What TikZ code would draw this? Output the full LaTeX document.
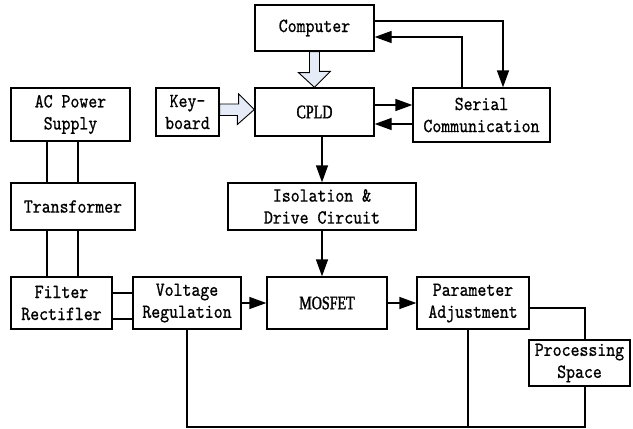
\documentclass[tikz,border=0pt]{standalone}
\usepackage{fontspec}
\usepackage{tikz}
\usetikzlibrary{arrows.meta}
\newfontfamily\boxfont[Extension=.otf, FakeStretch=0.85, FakeBold=0.8]{lmmono10-regular}
\newfontfamily\chipfont[FakeStretch=0.74, FakeBold=1.5]{Liberation Serif}
\definecolor{arrowfill}{RGB}{230,236,247}
\tikzset{
    block/.style={draw, line width=1.3pt, align=center, inner sep=0pt,
        font=\boxfont\fontsize{20}{22}\selectfont},
    chip/.style={block, font=\chipfont\fontsize{19}{21}\selectfont},
    wire/.style={line width=1.3pt},
    arr/.style={wire, -{Triangle[length=17pt,width=12pt]}},
    hollow/.style={line width=0.9pt, fill=arrowfill}
}

\begin{document}
\begin{tikzpicture}[x=1pt, y=-1pt]
        \useasboundingbox (0,0) rectangle (633,429);

        % boxes
        \node [block, minimum width=119, minimum height=53] (ac) at (70.5,114.5) {AC Power\\Supply};
        \node [block, minimum width=124, minimum height=47] (trans) at (73,206.5) {Transformer};
        \node [block, minimum width=101, minimum height=52] (filter) at (61.5,303) {Filter\\Rectifler};
        \node [block, minimum width=108, minimum height=52] (volt) at (187,303) {Voltage\\Regulation};
        \node [chip, minimum width=120, minimum height=52] (mos) at (327,303) {MOSFET};
        \node [block, minimum width=112, minimum height=52] (param) at (473,303) {Parameter\\Adjustment};
        \node [block, minimum width=101, minimum height=46] (proc) at (579.5,363) {Processing\\Space};
        \node [block, minimum width=188, minimum height=47] (iso) at (322,206.5) {Isolation \&\\Drive Circuit};
        \node [block, minimum width=63, minimum height=48] (key) at (187.5,112) {Key-\\board};
        \node [chip, minimum width=119, minimum height=48] (cpld) at (314.5,112) {CPLD};
        \node [block, minimum width=119, minimum height=46] (comp) at (314.5,28) {Computer};
        \node [block, minimum width=137, minimum height=54] (serial) at (481.5,115) {Serial\\Communication};

        % helper coordinates
        \coordinate (colA) at (47,0);
        \coordinate (colB) at (78,0);
        \coordinate (colC) at (462,0);
        \coordinate (colD) at (503,0);
        \coordinate (colE) at (468,0);
        \coordinate (colF) at (585,0);
        \coordinate (rowA) at (0,293);
        \coordinate (rowB) at (0,319);
        \coordinate (rowC) at (0,105);
        \coordinate (rowD) at (0,124);
        \coordinate (rowE) at (0,21);
        \coordinate (rowF) at (0,37);
        \coordinate (rowG) at (0,308);
        \coordinate (rowH) at (0,427);

        % power chain
        \draw [wire] (ac.south -| colA) -- (trans.north -| colA);
        \draw [wire] (ac.south -| colB) -- (trans.north -| colB);
        \draw [wire] (trans.south -| colA) -- (filter.north -| colA);
        \draw [wire] (trans.south -| colB) -- (filter.north -| colB);
        \draw [wire] (filter.east |- rowA) -- (volt.west |- rowA);
        \draw [wire] (filter.east |- rowB) -- (volt.west |- rowB);

        \draw [arr] (volt) -- (mos);
        \draw [arr] (mos) -- (param);
        \draw [arr] (cpld.south -| iso.north) -- (iso.north);
        \draw [arr] (iso.south) -- (iso.south |- mos.north);

        % cpld and serial link
        \draw [arr] (cpld.east |- rowC) -- (serial.west |- rowC);
        \draw [arr] (serial.west |- rowD) -- (cpld.east |- rowD);
        \draw [arr] (comp.east |- rowE) -| (serial.north -| colD);
        \draw [arr] (serial.north -| colC) |- (comp.east |- rowF);

        % hollow arrows
        \draw [hollow] ([xshift=-5pt]comp.south) -- ++(0,21) -- ++(-11,0) -- (cpld.north)
            -- ++(16,-16) -- ++(-11,0) -- ([xshift=5pt]comp.south) -- cycle;
        \draw [hollow] ([yshift=8pt]key.east) -- ++(19,0) -- ++(0,-10) -- ([yshift=2.5pt]cpld.west)
            -- ++(-17,15) -- ++(0,-9) -- ([yshift=-3.5pt]key.east) -- cycle;

        % feedback
        \draw [wire] (param.east |- rowG) -| (proc.north -| colF);
        \draw [wire] (volt.south) -- (volt.south |- rowH) -| (proc.south -| colF);
        \draw [wire] (param.south -| colE) -- (colE |- rowH);
    \end{tikzpicture}
\end{document}
